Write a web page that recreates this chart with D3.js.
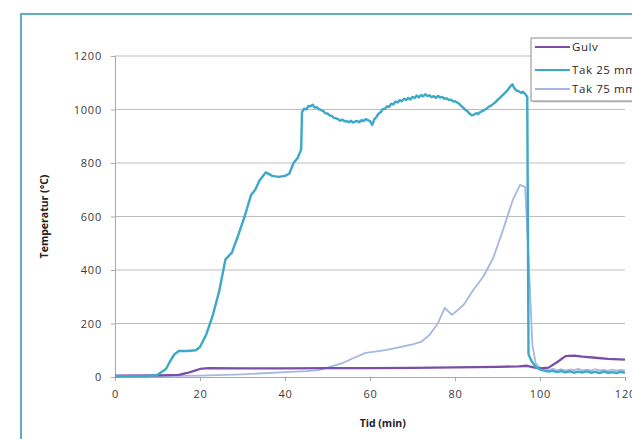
<!DOCTYPE html>
<html>
<head>
<meta charset="utf-8">
<script src="https://cdn.jsdelivr.net/npm/d3@7"></script>
<style>
  body { margin: 0; background: #fff; }
  text { font-family: "Open Sans", "DejaVu Sans", sans-serif; }
</style>
</head>
<body>
<div id="chart"></div>
<script>
// series: time (min) and temperature (°C)
var gulvTime = [0, 10, 15, 17, 19, 20, 22, 30, 40, 50, 60, 70, 80, 90, 95, 97, 98.5, 100, 102, 104, 106, 108, 110, 113, 116, 120];
var gulvTemp = [5, 6, 8, 15, 25, 30, 33, 32, 32, 33, 33, 34, 36, 38, 40, 42, 36, 32, 35, 55, 78, 80, 76, 72, 68, 65];

var tak25Time = [0, 8, 10, 12, 13, 14, 15, 17, 19, 20, 21.5, 23, 24.5, 26, 27.5, 29, 30.5, 32, 33, 34, 35.5, 37, 38.5, 40, 41, 42, 43, 43.8,
  44, 44.5, 45, 45.5, 46, 46.5, 47, 47.5, 48, 48.5, 49, 49.5, 50, 50.5, 51, 51.5, 52, 52.5, 53, 53.5, 54, 54.5, 55, 55.5, 56, 56.5,
  57, 57.5, 58, 58.5, 59, 59.5, 60, 60.5, 61, 61.5, 62, 62.5, 63, 63.5, 64, 64.5, 65, 65.5, 66, 66.5, 67, 67.5, 68, 68.5, 69, 69.5,
  70, 70.5, 71, 71.5, 72, 72.5, 73, 73.5, 74, 74.5, 75, 75.5, 76, 76.5, 77, 77.5, 78, 78.5, 79, 79.5, 80, 80.5, 81, 81.5, 82, 82.5,
  83, 83.5, 84, 84.5, 85, 85.5, 86, 86.5, 87, 87.5, 88, 88.5, 89, 89.5, 90, 90.5, 91, 91.5, 92, 92.5, 93, 93.5, 94, 94.5, 95, 95.5,
  96, 96.5, 97, 97.3, 98, 99, 100, 101, 102, 103, 104, 105, 106, 107, 108, 109, 110, 111, 112, 113, 114, 115, 116, 117, 118, 119, 120];
var tak25Temp = [3, 4, 8, 30, 60, 85, 97, 97, 100, 112, 160, 230, 320, 440, 465, 530, 600, 680, 700, 735, 765, 752, 748, 752, 760, 800, 820, 850,
  990, 1003, 1000, 1013, 1012, 1018, 1007, 1009, 1001, 998, 994, 986, 985, 978, 976, 969, 967, 964, 958, 962, 956, 957, 952, 958, 951, 955,
  957, 952, 960, 957, 964, 960, 957, 942, 963, 972, 984, 990, 1001, 1003, 1012, 1010, 1022, 1019, 1030, 1026, 1035, 1031, 1040, 1036, 1043, 1037,
  1047, 1043, 1052, 1045, 1054, 1049, 1057, 1050, 1053, 1046, 1050, 1044, 1051, 1045, 1047, 1040, 1042, 1036, 1037, 1031, 1031, 1026, 1021, 1013, 1006, 998,
  992, 983, 978, 981, 986, 984, 991, 994, 999, 1004, 1011, 1015, 1021, 1027, 1036, 1042, 1051, 1058, 1066, 1075, 1086, 1094, 1079, 1070, 1069, 1062,
  1066, 1058, 1047, 85, 60, 38, 28, 24, 20, 23, 18, 22, 17, 21, 16, 20, 17, 21, 16, 19, 15, 20, 16, 18, 15, 19, 16];

var tak75Time = [0, 10, 20, 30, 40, 45, 48, 50, 53.5, 56, 59, 62, 64, 67, 70, 72, 74, 76, 77.6, 79.3, 82, 84.3, 86.6, 89, 91.3, 93.6, 95.3, 96.5,
  97.3, 98.2, 99, 100, 101, 102, 103, 104, 105, 106, 107, 108, 109, 110, 111, 112, 113, 114, 115, 116, 117, 118, 119, 120];
var tak75Temp = [2, 3, 5, 10, 18, 22, 26, 35, 52, 70, 90, 97, 101, 112, 122, 131, 157, 202, 258, 232, 269, 325, 374, 445, 550, 662, 718, 710,
  450, 120, 50, 35, 30, 26, 30, 25, 29, 24, 28, 26, 30, 25, 28, 24, 29, 25, 27, 23, 28, 24, 27, 25];

var seriesNames = ["Gulv", "Tak 25 mm", "Tak 75 mm"];
var seriesColors = ["#7a4ea6", "#3ba9c7", "#a6b7e2"];
var yTicks = [0, 200, 400, 600, 800, 1000, 1200];
var xTicks = [0, 20, 40, 60, 80, 100, 120];

var W = 632, H = 439;
var margin = { top: 56, right: 7, bottom: 62, left: 115 };
var width = W - margin.left - margin.right,
    height = H - margin.top - margin.bottom;

var svg = d3.select("#chart").append("svg")
    .attr("width", W)
    .attr("height", H);

// outer frame (cut off at right/bottom)
svg.append("rect")
    .attr("x", 21).attr("y", 14)
    .attr("width", 700).attr("height", 500)
    .attr("fill", "none")
    .attr("stroke", "#5eaebb")
    .attr("stroke-width", 2);

var g = svg.append("g")
    .attr("transform", "translate(" + margin.left + "," + margin.top + ")");

var x = d3.scaleLinear().domain([0, 120]).range([0, 510]);
var y = d3.scaleLinear().domain([0, 1200]).range([height, 0]);

// gridlines
g.append("g")
    .selectAll("line")
    .data(yTicks.slice(1))
    .enter().append("line")
    .attr("x1", 0).attr("x2", x(120))
    .attr("y1", function(d) { return y(d); })
    .attr("y2", function(d) { return y(d); })
    .attr("stroke", "#bdbdbd")
    .attr("stroke-width", 1);

// axes
var yAxis = g.append("g")
    .call(d3.axisLeft(y).tickValues(yTicks).tickFormat(d3.format("d")).tickSize(4).tickPadding(9));
var xAxis = g.append("g")
    .attr("transform", "translate(0," + height + ")")
    .call(d3.axisBottom(x).tickValues(xTicks).tickFormat(d3.format("d")).tickSize(4).tickPadding(9));

[yAxis, xAxis].forEach(function(a) {
  a.selectAll("path").attr("stroke", "#a8a8a8");
  a.selectAll("line").attr("stroke", "#a8a8a8");
  a.selectAll("text").attr("fill", "#3a3a3a")
    .style("font-size", "11px")
    .style("letter-spacing", "0.8px");
});

// lines
var data = [
  d3.zip(gulvTime, gulvTemp),
  d3.zip(tak25Time, tak25Temp),
  d3.zip(tak75Time, tak75Temp)
];
var widths = [2.3, 2.4, 1.8];
var line = d3.line()
    .x(function(d) { return x(d[0]); })
    .y(function(d) { return y(d[1]); });

// draw Tak 75 first, then Gulv, then Tak 25 on top
[2, 0, 1].forEach(function(i) {
  g.append("path")
      .datum(data[i])
      .attr("fill", "none")
      .attr("stroke", seriesColors[i])
      .attr("stroke-width", widths[i])
      .attr("stroke-linejoin", "round")
      .attr("d", line);
});

// axis titles
svg.append("text")
    .attr("transform", "translate(48," + (margin.top + height / 2) + ") rotate(-90)")
    .attr("text-anchor", "middle")
    .attr("fill", "#222")
    .style("font-size", "10.5px")
    .style("font-weight", "bold")
    .text("Temperatur (°C)");

svg.append("text")
    .attr("x", margin.left + x(63))
    .attr("y", 427)
    .attr("text-anchor", "middle")
    .attr("fill", "#222")
    .style("font-size", "10.5px")
    .style("font-weight", "bold")
    .text("Tid (min)");

// legend
var legend = svg.append("g").attr("transform", "translate(531,38)");
legend.append("rect")
    .attr("x", 1.5).attr("y", 1.5)
    .attr("width", 130).attr("height", 63)
    .attr("fill", "#cfcfcf");
legend.append("rect")
    .attr("width", 130).attr("height", 63)
    .attr("fill", "#fff")
    .attr("stroke", "#8c8c8c")
    .attr("stroke-width", 1);
var legY = [9, 32, 51];
seriesNames.forEach(function(name, i) {
  legend.append("line")
      .attr("x1", 4).attr("x2", 39)
      .attr("y1", legY[i]).attr("y2", legY[i])
      .attr("stroke", seriesColors[i])
      .attr("stroke-width", 2);
  legend.append("text")
      .attr("x", 41).attr("y", legY[i] + 4)
      .attr("fill", "#2a2a2a")
      .style("font-size", "11.5px")
      .style("letter-spacing", "0.6px")
      .text(name);
});
</script>
</body>
</html>
